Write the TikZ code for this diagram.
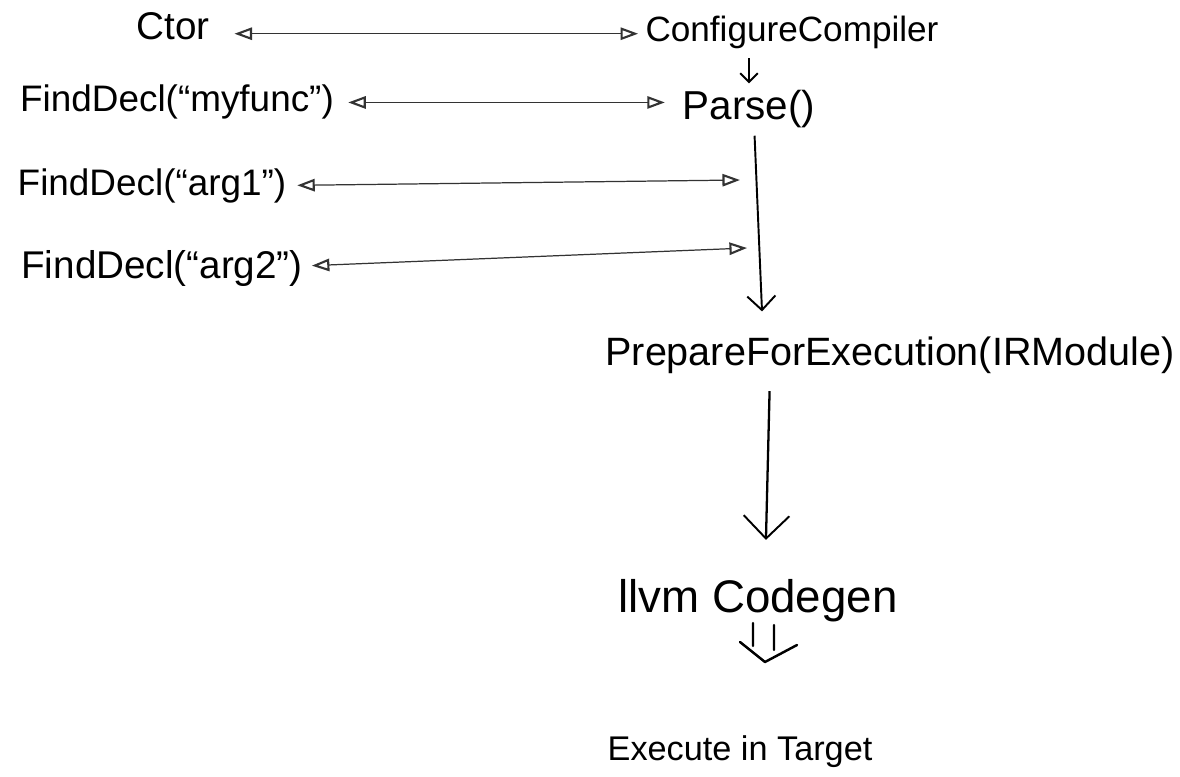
\documentclass[tikz,border=0pt]{standalone}
\usepackage{fontspec}
\setmainfont{Liberation Sans}
\usetikzlibrary{arrows.meta}

\begin{document}
\begin{tikzpicture}[x = 0.02cm, y = -0.02cm,
	txt/.style = {inner sep=0pt, anchor=base},
	call/.style = {{Triangle[open, length=10pt, width=7pt, line width=1.2pt]}-{Triangle[open, length=10pt, width=7pt, line width=1.2pt]}, line width=0.7pt, color=black!80},
	flow/.style = {-{Straight Barb[length=#1, width=2*#1, line width=1.1pt]}, line width=1.1pt},
	flow/.default = 8pt]
					\useasboundingbox (0,0) rectangle (1180,777);
					\node[txt, font=\fontsize{22}{24}\selectfont] (ctor) at (173,40) {Ctor};
					\node[txt, font=\fontsize{20}{22}\selectfont] (conf) at (792,42) {ConfigureCompiler};
					\node[txt, font=\fontsize{21}{24}\selectfont] (myfunc) at (177,112) {FindDecl(“myfunc”)};
					\node[txt, font=\fontsize{23}{26}\selectfont] (parse) at (749,120) {Parse()};
					\node[txt, font=\fontsize{21}{24}\selectfont] (arg1) at (152,195) {FindDecl(“arg1”)};
					\node[txt, font=\fontsize{22}{24}\selectfont] (arg2) at (162,278) {FindDecl(“arg2”)};
					\node[txt, font=\fontsize{22.5}{26}\selectfont] (prep) at (890,365) {PrepareForExecution(IRModule)};
					\node[txt, font=\fontsize{26}{30}\selectfont] (llvm) at (758,612) {llvm Codegen};
					\node[txt, font=\fontsize{19.5}{22}\selectfont] (exec) at (740,760) {Execute in Target};
					\coordinate (p1) at (740,180);
					\coordinate (p2) at (747,248);
					\coordinate (d1) at (753,623);
					\coordinate (d2) at (774,625);
					\coordinate (dv) at (765,662);
					\draw[call, shorten <=14pt, shorten >=4pt] ([yshift=-4pt]ctor.east) -- ([yshift=-4pt]ctor.east -| conf.west);
					\draw[call, shorten <=8pt, shorten >=10pt] (myfunc.east) -- (myfunc.east -| parse.west);
					\draw[call, shorten <=6pt] (arg1.east) -- (p1);
					\draw[call, shorten <=5pt] (arg2.east) ++(0,-2) -- (p2);
					\draw[flow=5pt, line width=0.9pt, shorten <=5pt, shorten >=4pt] (conf.south -| parse) -- (parse.north);
					\draw[flow=8pt, shorten <=4pt, shorten >=14pt] ([xshift=3pt]parse.south) -- ([xshift=8pt]prep.north -| parse);
					\draw[flow=13pt, line width=1.3pt, shorten <=10pt, shorten >=22pt] (prep.south -| 770,0) -- (llvm.north -| 765,0);
					\draw[line width=1.4pt, line cap=round, line join=round] (d1) -- ++(0,23) (d2) -- ++(0,25) (740,642) -- (dv) -- (797,645);
				\end{tikzpicture}
\end{document}
